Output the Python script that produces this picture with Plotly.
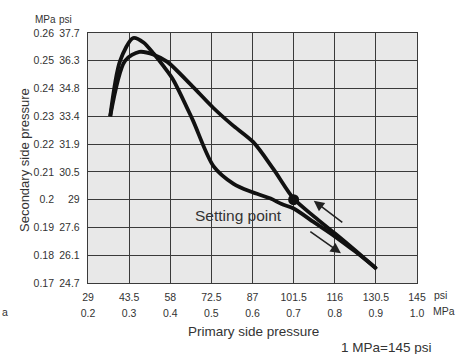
import plotly.graph_objects as go

# ---- data ----
curve_a_mpa = [0.254, 0.278, 0.31, 0.335, 0.36, 0.385, 0.407, 0.454, 0.505, 0.554, 0.595, 0.644, 0.671, 0.70, 0.75, 0.80, 0.85, 0.90]
curve_a_sec = [0.230, 0.250, 0.2582, 0.2566, 0.2525, 0.2478, 0.2432, 0.2289, 0.2121, 0.2057, 0.2029, 0.2004, 0.1984, 0.1968, 0.1918, 0.1868, 0.1813, 0.1754]

curve_b_mpa = [0.254, 0.29, 0.325, 0.36, 0.393, 0.45, 0.505, 0.55, 0.602, 0.651, 0.70, 0.75, 0.80, 0.85, 0.902]
curve_b_sec = [0.230, 0.250, 0.2532, 0.2522, 0.2496, 0.2414, 0.233, 0.227, 0.2207, 0.211, 0.2004, 0.1939, 0.1879, 0.1817, 0.175]

setting_point = (0.70, 0.200)

x_mpa_ticks = [0.2, 0.3, 0.4, 0.5, 0.6, 0.7, 0.8, 0.9, 1.0]
x_mpa_text = ["0.2", "0.3", "0.4", "0.5", "0.6", "0.7", "0.8", "0.9", "1.0"]
x_psi_text = ["29", "43.5", "58", "72.5", "87", "101.5", "116", "130.5", "145"]

y_mpa_ticks = [0.26, 0.25, 0.24, 0.23, 0.22, 0.21, 0.20, 0.19, 0.18, 0.17]
y_mpa_text = ["0.26", "0.25", "0.24", "0.23", "0.22", "0.21", "0.2", "0.19", "0.18", "0.17"]
y_psi_text = ["37.7", "36.3", "34.8", "33.4", "31.9", "30.5", "29", "27.6", "26.1", "24.7"]

# arrows (tail -> head) in data units
arrow_up = ((0.822, 0.1914), (0.749, 0.1996))
arrow_down = ((0.737, 0.1889), (0.815, 0.1807))

FONT = "Liberation Sans, Arial, sans-serif"
TXT = "#333333"
GRID = "#3a3a3a"
TS = 10.5

W, H = 471, 354
L, R, T, B = 88, 54, 33, 71
PW, PH = W - L - R, H - T - B


def px(x):
    return (x - L) / PW


def py(y):
    return (H - B - y) / PH


fig = go.Figure()

for xs, ys in [(curve_b_mpa, curve_b_sec), (curve_a_mpa, curve_a_sec)]:
    fig.add_trace(go.Scatter(
        x=xs, y=ys, mode="lines",
        line=dict(color="#111111", width=3.8, shape="spline", smoothing=0.8),
        hoverinfo="skip", showlegend=False))

fig.add_trace(go.Scatter(
    x=[setting_point[0]], y=[setting_point[1]], mode="markers",
    marker=dict(color="#111111", size=11), showlegend=False, hoverinfo="skip"))

# invisible trace to activate overlay axes
fig.add_trace(go.Scatter(x=[0.2], y=[0.17], xaxis="x2", yaxis="y2", mode="markers",
                         marker=dict(opacity=0), showlegend=False, hoverinfo="skip"))

axis_common = dict(showgrid=True, gridcolor=GRID, gridwidth=1.4, showline=True,
                   linecolor=GRID, linewidth=1.4, mirror=True, ticks="", zeroline=False,
                   tickfont=dict(family=FONT, size=TS, color=TXT))

fig.update_layout(
    width=W, height=H,
    margin=dict(l=L, r=R, t=T, b=B),
    paper_bgcolor="white", plot_bgcolor="#e8e8e8",
    xaxis=dict(range=[0.2, 1.0], tickvals=x_mpa_ticks, ticktext=x_psi_text,
               ticklabelstandoff=4, **axis_common),
    xaxis2=dict(range=[0.2, 1.0], overlaying="x", side="bottom", tickvals=x_mpa_ticks,
                ticktext=x_mpa_text, ticklabelstandoff=22, showgrid=False, showline=False,
                ticks="", zeroline=False, tickfont=dict(family=FONT, size=TS, color=TXT)),
    yaxis=dict(range=[0.17, 0.26], tickvals=y_mpa_ticks, ticktext=y_psi_text,
               ticklabelstandoff=5, **axis_common),
    yaxis2=dict(range=[0.17, 0.26], overlaying="y", side="left", tickvals=y_mpa_ticks,
                ticktext=y_mpa_text, ticklabelstandoff=33, showgrid=False, showline=False,
                ticks="", zeroline=False, tickfont=dict(family=FONT, size=TS, color=TXT)),
)

ann = []


def txt(text, x, y, size=TS, xanchor="center", angle=0):
    ann.append(dict(text=text, xref="paper", yref="paper", x=px(x), y=py(y),
                    xanchor=xanchor, yanchor="middle", showarrow=False, textangle=angle,
                    font=dict(family=FONT, size=size, color=TXT)))


txt("MPa", 33, 20, size=10, xanchor="left")
txt("psi", 57, 20, size=10, xanchor="left")
txt("psi", 432, 295, xanchor="left")
txt("MPa", 431, 311, xanchor="left")
txt("a", 0, 312, xanchor="left")
txt("Primary side pressure", 253, 331, size=13.5)
txt("1 MPa=145 psi", 386, 347, size=13.5)
txt("Secondary side pressure", 24, 160, size=13, angle=-90)
txt("Setting point", 238, 215, size=15.5)

for (tx, ty), (hx, hy) in [arrow_up, arrow_down]:
    ann.append(dict(x=hx, y=hy, ax=tx, ay=ty, xref="x", yref="y", axref="x", ayref="y",
                    text="", showarrow=True, arrowhead=2, arrowsize=1.3, arrowwidth=1.6,
                    arrowcolor="#222222"))

fig.update_layout(annotations=ann)

fig.write_html("out.html", config={"displayModeBar": False},
               post_script="document.body.style.margin='0';")
